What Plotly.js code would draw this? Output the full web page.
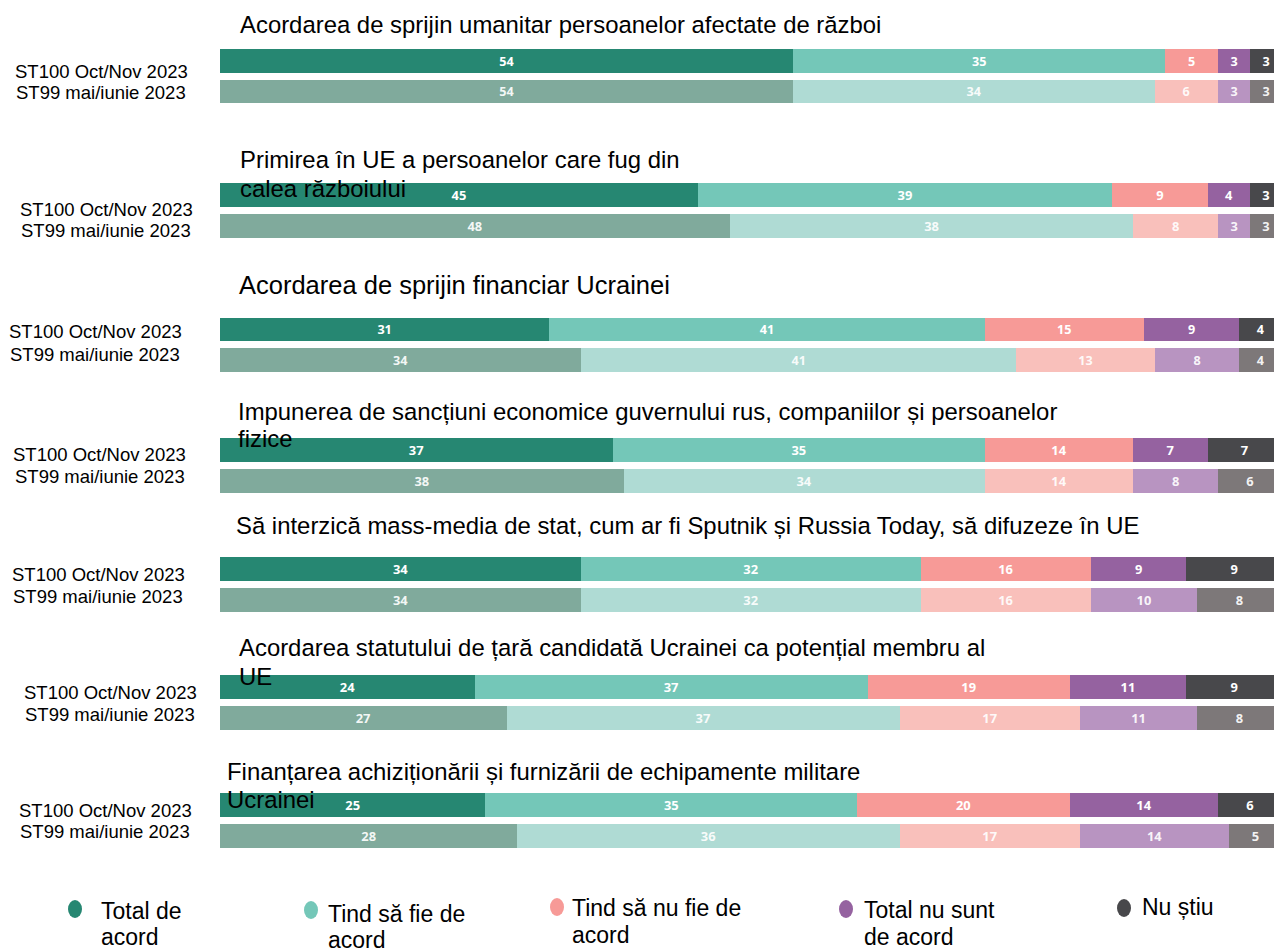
<!DOCTYPE html>
<html><head><meta charset="utf-8">
<script src="https://cdn.plot.ly/plotly-3.0.1.min.js"></script>
<style>html,body{margin:0;padding:0;background:#fff}#chart{width:1274px;height:948px}</style>
</head><body><div id="chart"></div>
<script>
// ---------- DATA ----------
const statements = [
  "Acordarea de sprijin umanitar persoanelor afectate de război",
  "Primirea în UE a persoanelor care fug din\ncalea războiului",
  "Acordarea de sprijin financiar Ucrainei",
  "Impunerea de sancțiuni economice guvernului rus, companiilor și persoanelor\nfizice",
  "Să interzică mass-media de stat, cum ar fi Sputnik și Russia Today, să difuzeze în UE",
  "Acordarea statutului de țară candidată Ucrainei ca potențial membru al\nUE",
  "Finanțarea achiziționării și furnizării de echipamente militare\nUcrainei"
];
const waves = ["ST100 Oct/Nov 2023", "ST99 mai/iunie 2023"];
const responses = ["Total de\nacord", "Tind să fie de\nacord", "Tind să nu fie de\nacord", "Total nu sunt\nde acord", "Nu știu"];

const totalAgreeST100    = [54, 45, 31, 37, 34, 24, 25];
const totalAgreeST99     = [54, 48, 34, 38, 34, 27, 28];
const tendAgreeST100     = [35, 39, 41, 35, 32, 37, 35];
const tendAgreeST99      = [34, 38, 41, 34, 32, 37, 36];
const tendDisagreeST100  = [5, 9, 15, 14, 16, 19, 20];
const tendDisagreeST99   = [6, 8, 13, 14, 16, 17, 17];
const totalDisagreeST100 = [3, 4, 9, 7, 9, 11, 14];
const totalDisagreeST99  = [3, 3, 8, 8, 10, 11, 14];
const dontKnowST100      = [3, 3, 4, 7, 9, 9, 6];
const dontKnowST99       = [3, 3, 4, 6, 8, 8, 5];

const seriesST100 = [totalAgreeST100, tendAgreeST100, tendDisagreeST100, totalDisagreeST100, dontKnowST100];
const seriesST99  = [totalAgreeST99, tendAgreeST99, tendDisagreeST99, totalDisagreeST99, dontKnowST99];

// ---------- STYLE / LAYOUT ----------
const darkColors  = ["#268772", "#74c7b8", "#f79a97", "#9562a0", "#48484b"];
const lightColors = ["#80aa9c", "#afdbd4", "#f9c0bb", "#b894c1", "#7d7879"];

const W = 1274, H = 948;
const px = x => x / W;
const py = y => 1 - y / H;

// bar centre rows (pixels) for [ST100, ST99] per group
const groupRows = [[61, 91.5], [195, 226], [329.5, 360], [450, 481], [569, 600], [687, 718], [805, 836]];
// wave label block: centre x, line y's
const labelPos = [[101, 71, 93], [106, 209, 231], [95, 332, 354], [99.5, 455, 476], [98, 574, 596], [110, 692, 714], [105, 810, 831]];
// title: left x, line y's, font size
const titlePos = [[238, [25], 23.9], [238, [160, 189], 23.9], [237, [285], 25.5], [236, [411, 439], 23.9], [234, [525], 23.9], [237, [647, 676], 23.9], [225, [771, 799], 23.9]];
// legend: marker x,y ; text x, line y's
const legendPos = [
  [75, 909, 99, [911, 937]],
  [311, 910, 326, [914, 940]],
  [557, 907, 570, [908, 935]],
  [846, 909, 862, [910, 937]],
  [1124, 908, 1140, [907]]
];

const traces = [];
const layout = {
  width: W, height: H,
  margin: {l: 0, r: 0, t: 0, b: 0},
  paper_bgcolor: "#fff", plot_bgcolor: "#fff",
  barmode: "stack",
  showlegend: false,
  font: {family: "Liberation Sans, Arial, sans-serif", color: "#000"},
  xaxis: {domain: [220 / W, 1], range: [0, 99.25], visible: false, fixedrange: true},
  annotations: [],
  shapes: []
};

statements.forEach((st, g) => {
  const yName = g === 0 ? "y" : "y" + (g + 1);
  const axKey = g === 0 ? "yaxis" : "yaxis" + (g + 1);
  const [c1, c2] = groupRows[g];
  const s = c2 - c1;
  layout[axKey] = {
    domain: [py(c2 + s / 2), py(c1 - s / 2)],
    type: "category",
    categoryorder: "array",
    categoryarray: [waves[1], waves[0]],
    range: [-0.5, 1.5],
    visible: false,
    anchor: "x",
    fixedrange: true
  };
  for (let r = 0; r < responses.length; r++) {
    const v100 = seriesST100[r][g], v99 = seriesST99[r][g];
    traces.push({
      type: "bar", orientation: "h",
      xaxis: "x", yaxis: yName,
      y: [waves[0], waves[1]],
      x: [v100, v99],
      width: 0.77,
      marker: {color: [darkColors[r], lightColors[r]], line: {width: 0}},
      text: [String(v100), String(v99)],
      textposition: "inside",
      insidetextanchor: "middle",
      textangle: 0,
      textfont: {color: ["#ffffff", "rgba(255,255,255,0.92)"], size: 13, family: "Open Sans, sans-serif", weight: 700},
      hoverinfo: "skip",
      name: responses[r].replace("\n", " ")
    });
  }
  // wave labels
  const [lx, ly1, ly2] = labelPos[g];
  [ly1, ly2].forEach((ly, i) => {
    layout.annotations.push({
      xref: "paper", yref: "paper", x: px(lx), y: py(ly),
      xanchor: "center", yanchor: "middle", showarrow: false,
      text: waves[i], font: {size: 18.5, color: "#000"}
    });
  });
  // titles
  const [tx, tys, tsz] = titlePos[g];
  st.split("\n").forEach((line, i) => {
    layout.annotations.push({
      xref: "paper", yref: "paper", x: px(tx), y: py(tys[i]),
      xanchor: "left", yanchor: "middle", showarrow: false,
      text: line, font: {size: tsz, color: "#000"}
    });
  });
});

// legend
responses.forEach((resp, r) => {
  const [mx, my, tx, tys] = legendPos[r];
  layout.shapes.push({
    type: "circle", xref: "paper", yref: "paper",
    x0: px(mx - 7), x1: px(mx + 7), y0: py(my + 9), y1: py(my - 9),
    fillcolor: darkColors[r], line: {width: 0}
  });
  resp.split("\n").forEach((line, i) => {
    layout.annotations.push({
      xref: "paper", yref: "paper", x: px(tx), y: py(tys[i]),
      xanchor: "left", yanchor: "middle", showarrow: false,
      text: line, font: {size: 23, color: "#000"}
    });
  });
});

Plotly.newPlot("chart", traces, layout, {staticPlot: true, displayModeBar: false});
</script>
</body></html>
